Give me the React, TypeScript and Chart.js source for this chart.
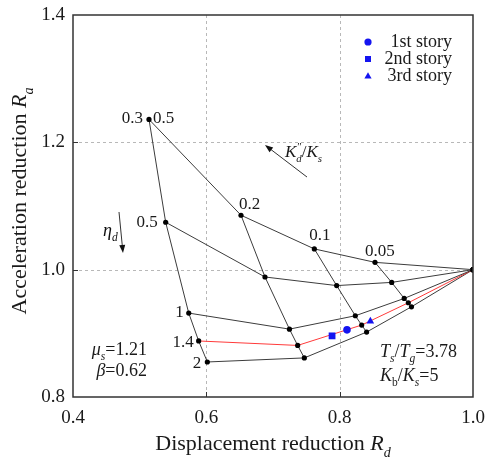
import { useEffect, useRef } from 'react';
import { Chart, registerables } from 'chart.js';

Chart.register(...registerables);

// K_d''/K_s values labelling each column of the grid (last column, 0, meets at (1, 1))
const kRatioLabels = ['0.5', '0.2', '0.1', '0.05'];
// η_d values labelling each curve
const etaLabels = ['0.3', '0.5', '1', '1.4', '2'];

// Displacement (Rd) and acceleration (Ra) reduction along each η_d curve,
// for K_d''/K_s = 0.5, 0.2, 0.1, 0.05, 0
const rdEta03 = [0.514, 0.652, 0.762, 0.853, 1.0];
const raEta03 = [1.236, 1.0855, 1.0326, 1.0115, 1.0];
const rdEta05 = [0.539, 0.688, 0.7955, 0.878, 1.0];
const raEta05 = [1.0745, 0.9885, 0.975, 0.98, 1.0];
const rdEta1 = [0.5736, 0.7247, 0.8235, 0.8968, 1.0];
const raEta1 = [0.9318, 0.9066, 0.9276, 0.9548, 1.0];
const rdEta14 = [0.5885, 0.737, 0.833, 0.903, 1.0];
const raEta14 = [0.888, 0.881, 0.913, 0.948, 1.0];
const rdEta2 = [0.6015, 0.747, 0.8404, 0.9077, 1.0];
const raEta2 = [0.855, 0.8614, 0.902, 0.9417, 1.0];

// Per-story results
const storyNames = ['1st story', '2nd story', '3rd story'];
const storyRd = [0.811, 0.7886, 0.846];
const storyRa = [0.9055, 0.896, 0.919];

const xTicks = [0.4, 0.6, 0.8, 1.0];
const yTicks = [0.8, 1.0, 1.2, 1.4];

const FONT = '"Liberation Serif", "Times New Roman", serif';
const BLUE = '#1414f0';
const RED = '#ff3a3a';
const LINE = '#3c3c3c';

type Seg = { t: string; it?: boolean; sub?: boolean; sup?: string };

const fontOf = (size: number, it?: boolean) => `${it ? 'italic ' : ''}${size}px ${FONT}`;

function segWidth(ctx: CanvasRenderingContext2D, s: Seg, size: number) {
  const sz = s.sub ? size * 0.64 : size;
  ctx.font = fontOf(sz, s.it);
  let w = ctx.measureText(s.t).width;
  if (s.sup) {
    ctx.font = fontOf(size * 0.64, false);
    w = Math.max(w, ctx.measureText(s.sup).width);
  }
  return w;
}

function drawRich(
  ctx: CanvasRenderingContext2D,
  segs: Seg[],
  x: number,
  y: number,
  size: number,
  align: 'left' | 'right' | 'center'
) {
  const total = segs.reduce((a, s) => a + segWidth(ctx, s, size), 0);
  let cx = align === 'center' ? x - total / 2 : align === 'right' ? x - total : x;
  ctx.textAlign = 'left';
  ctx.textBaseline = 'alphabetic';
  for (const s of segs) {
    const sz = s.sub ? size * 0.64 : size;
    ctx.font = fontOf(sz, s.it);
    ctx.fillText(s.t, cx, y + (s.sub ? size * 0.3 : 0));
    if (s.sup) {
      ctx.font = fontOf(size * 0.64, false);
      ctx.fillText(s.sup, cx + 1, y - size * 0.38);
    }
    cx += segWidth(ctx, s, size);
  }
}

function arrow(ctx: CanvasRenderingContext2D, x1: number, y1: number, x2: number, y2: number) {
  const ang = Math.atan2(y2 - y1, x2 - x1);
  const len = 8;
  const half = 3;
  ctx.strokeStyle = '#333';
  ctx.fillStyle = '#111';
  ctx.lineWidth = 1;
  ctx.beginPath();
  ctx.moveTo(x1, y1);
  ctx.lineTo(x2 - Math.cos(ang) * len * 0.8, y2 - Math.sin(ang) * len * 0.8);
  ctx.stroke();
  ctx.beginPath();
  ctx.moveTo(x2, y2);
  ctx.lineTo(x2 - Math.cos(ang) * len - Math.sin(ang) * half, y2 - Math.sin(ang) * len + Math.cos(ang) * half);
  ctx.lineTo(x2 - Math.cos(ang) * len + Math.sin(ang) * half, y2 - Math.sin(ang) * len - Math.cos(ang) * half);
  ctx.closePath();
  ctx.fill();
}

const rows: [number[], number[]][] = [
  [rdEta03, raEta03],
  [rdEta05, raEta05],
  [rdEta1, raEta1],
  [rdEta14, raEta14],
  [rdEta2, raEta2],
];

const storyStyles = ['circle', 'rect', 'triangle'];
const storyRadius = [3.8, 4.8, 4.4];

// Label placement relative to the grid node it names: [col, dx, dy, align]
const kLabelPos: [number, number, number, 'left' | 'right'][] = [
  [0, 4, 3.5, 'left'],
  [1, -2, -6, 'left'],
  [2, -5, -9, 'left'],
  [3, -10, -6, 'left'],
];
const etaLabelPos: [number, number, 'left' | 'right'][] = [
  [-6, 3.5, 'right'],
  [-8, 5, 'right'],
  [-5, 4, 'right'],
  [-5, 6, 'right'],
  [-6, 6, 'right'],
];

const decorPlugin = {
  id: 'decor',
  beforeDatasetsDraw(chart: any) {
    const { ctx, chartArea: a, scales } = chart;
    const sx = scales.x;
    const sy = scales.y;
    ctx.save();
    ctx.strokeStyle = '#b8b8b8';
    ctx.lineWidth = 1;
    ctx.setLineDash([3, 3]);
    for (const v of xTicks.slice(1, -1)) {
      const p = Math.round(sx.getPixelForValue(v)) + 0.5;
      ctx.beginPath();
      ctx.moveTo(p, a.top);
      ctx.lineTo(p, a.bottom);
      ctx.stroke();
    }
    for (const v of yTicks.slice(1, -1)) {
      const p = Math.round(sy.getPixelForValue(v)) + 0.5;
      ctx.beginPath();
      ctx.moveTo(a.left, p);
      ctx.lineTo(a.right, p);
      ctx.stroke();
    }
    ctx.restore();
  },
  afterDraw(chart: any) {
    const { ctx, chartArea: a, scales } = chart;
    const sx = scales.x;
    const sy = scales.y;
    const X = (v: number) => sx.getPixelForValue(v);
    const Y = (v: number) => sy.getPixelForValue(v);
    ctx.save();

    // frame and inward ticks
    ctx.strokeStyle = '#333';
    ctx.lineWidth = 1.5;
    ctx.setLineDash([]);
    ctx.strokeRect(a.left, a.top, a.right - a.left, a.bottom - a.top);
    ctx.lineWidth = 1;
    for (const v of xTicks.slice(1, -1)) {
      const p = Math.round(X(v)) + 0.5;
      ctx.beginPath();
      ctx.moveTo(p, a.bottom);
      ctx.lineTo(p, a.bottom - 5);
      ctx.stroke();
    }
    for (const v of yTicks.slice(1, -1)) {
      const p = Math.round(Y(v)) + 0.5;
      ctx.beginPath();
      ctx.moveTo(a.left, p);
      ctx.lineTo(a.left + 5, p);
      ctx.stroke();
    }

    ctx.fillStyle = '#1a1a1a';

    // axis titles
    drawRich(
      ctx,
      [{ t: 'Displacement reduction ' }, { t: 'R', it: true }, { t: 'd', it: true, sub: true }],
      (a.left + a.right) / 2,
      450,
      22,
      'center'
    );
    ctx.save();
    ctx.translate(26, (a.top + a.bottom) / 2 - 5);
    ctx.rotate(-Math.PI / 2);
    drawRich(
      ctx,
      [{ t: 'Acceleration reduction ' }, { t: 'R', it: true }, { t: 'a', it: true, sub: true }],
      0,
      0,
      22,
      'center'
    );
    ctx.restore();

    // curve labels
    ctx.fillStyle = '#1a1a1a';
    kLabelPos.forEach(([col, dx, dy, al], i) => {
      const px = X(rows[0][0][col]);
      const py = Y(rows[0][1][col]);
      drawRich(ctx, [{ t: kRatioLabels[i] }], px + dx, py + dy, 17, al);
    });
    etaLabelPos.forEach(([dx, dy, al], i) => {
      const px = X(rows[i][0][0]);
      const py = Y(rows[i][1][0]);
      drawRich(ctx, [{ t: etaLabels[i] }], px + dx, py + dy, 17, al);
    });

    // parameter notes
    drawRich(ctx, [{ t: 'μ', it: true }, { t: 's', it: true, sub: true }, { t: '=1.21' }], X(0.511), Y(0.866), 18, 'right');
    drawRich(ctx, [{ t: 'β', it: true }, { t: '=0.62' }], X(0.511), Y(0.833), 18, 'right');
    drawRich(
      ctx,
      [{ t: 'T', it: true }, { t: 's', it: true, sub: true }, { t: '/' }, { t: 'T', it: true }, { t: 'g', it: true, sub: true }, { t: '=3.78' }],
      X(0.8605),
      Y(0.8633),
      18,
      'left'
    );
    drawRich(
      ctx,
      [{ t: 'K', it: true }, { t: 'b', sub: true }, { t: '/' }, { t: 'K', it: true }, { t: 's', it: true, sub: true }, { t: '=5' }],
      X(0.8605),
      Y(0.8256),
      18,
      'left'
    );

    // direction hints
    drawRich(
      ctx,
      [{ t: 'K', it: true }, { t: 'd', it: true, sub: true, sup: '″' }, { t: '/' }, { t: 'K', it: true }, { t: 's', it: true, sub: true }],
      X(0.718),
      Y(1.1774),
      17,
      'left'
    );
    arrow(ctx, X(0.751), Y(1.1455), X(0.688), Y(1.1958));
    drawRich(ctx, [{ t: 'η', it: true }, { t: 'd', it: true, sub: true }], X(0.445), Y(1.0529), 18, 'left');
    arrow(ctx, X(0.469), Y(1.0906), X(0.475), Y(1.0262));

    // legend
    const legY = [1.3576, 1.3309, 1.3042];
    storyNames.forEach((name, i) => {
      const mx = X(0.8425);
      const my = Y(legY[i]);
      ctx.fillStyle = BLUE;
      ctx.beginPath();
      if (i === 0) {
        ctx.arc(mx, my, 3.6, 0, Math.PI * 2);
      } else if (i === 1) {
        ctx.rect(mx - 3, my - 3, 6, 6);
      } else {
        ctx.moveTo(mx, my - 3.8);
        ctx.lineTo(mx + 3.6, my + 2.6);
        ctx.lineTo(mx - 3.6, my + 2.6);
        ctx.closePath();
      }
      ctx.fill();
      ctx.fillStyle = '#1a1a1a';
      drawRich(ctx, [{ t: name }], X(0.9685), my + 5, 18, 'right');
    });

    ctx.restore();
  },
};

export default function App() {
  const canvasRef = useRef<HTMLCanvasElement>(null);

  useEffect(() => {
    if (!canvasRef.current) return;

    const rowSets = rows.map(([rd, ra], i) => ({
      label: `eta ${etaLabels[i]}`,
      data: rd.map((x, j) => ({ x, y: ra[j] })),
      showLine: true,
      borderColor: i === 3 ? RED : LINE,
      borderWidth: 1,
      pointRadius: 2.6,
      pointBackgroundColor: '#000',
      pointBorderWidth: 0,
      order: 1,
    }));

    const colSets = kRatioLabels.map((k, j) => ({
      label: `K ${k}`,
      data: rows.map(([rd, ra]) => ({ x: rd[j], y: ra[j] })),
      showLine: true,
      borderColor: LINE,
      borderWidth: 1,
      pointRadius: 0,
      order: 2,
    }));

    const storySets = storyNames.map((name, i) => ({
      label: name,
      data: [{ x: storyRd[i], y: storyRa[i] }],
      showLine: false,
      pointStyle: storyStyles[i],
      pointRadius: storyRadius[i],
      pointBackgroundColor: BLUE,
      pointBorderColor: BLUE,
      pointBorderWidth: 0,
      order: 0,
    }));

    const tickFont = { family: FONT, size: 19 };

    const chart = new Chart(canvasRef.current, {
      type: 'scatter',
      data: { datasets: [...storySets, ...rowSets, ...colSets] as any },
      options: {
        animation: false,
        responsive: false,
        layout: { padding: { left: 0, top: 15, right: 13, bottom: 0 } },
        plugins: { legend: { display: false }, tooltip: { enabled: false } },
        scales: {
          x: {
            type: 'linear',
            min: 0.4,
            max: 1.0,
            afterFit: (s: any) => {
              s.height = 68;
              s.paddingLeft = 0;
              s.paddingRight = 0;
            },
            afterBuildTicks: (s: any) => {
              s.ticks = xTicks.map((value) => ({ value }));
            },
            ticks: {
              font: tickFont,
              color: '#1a1a1a',
              padding: 10,
              maxRotation: 0,
              callback: (v: any) => Number(v).toFixed(1),
            },
            grid: { display: false, drawTicks: false },
            border: { display: false },
          },
          y: {
            type: 'linear',
            min: 0.8,
            max: 1.4,
            afterFit: (s: any) => {
              s.width = 73;
              s.paddingTop = 0;
              s.paddingBottom = 0;
            },
            afterBuildTicks: (s: any) => {
              s.ticks = yTicks.map((value) => ({ value }));
            },
            ticks: {
              font: tickFont,
              color: '#1a1a1a',
              padding: 8,
              callback: (v: any) => Number(v).toFixed(1),
            },
            grid: { display: false, drawTicks: false },
            border: { display: false },
          },
        },
      },
      plugins: [decorPlugin],
    });

    return () => chart.destroy();
  }, []);

  return (
    <div style={{ position: 'fixed', left: 0, top: 0, width: 486, height: 465, background: '#fff' }}>
      <canvas ref={canvasRef} width={486} height={465} style={{ width: 486, height: 465 }} />
    </div>
  );
}
